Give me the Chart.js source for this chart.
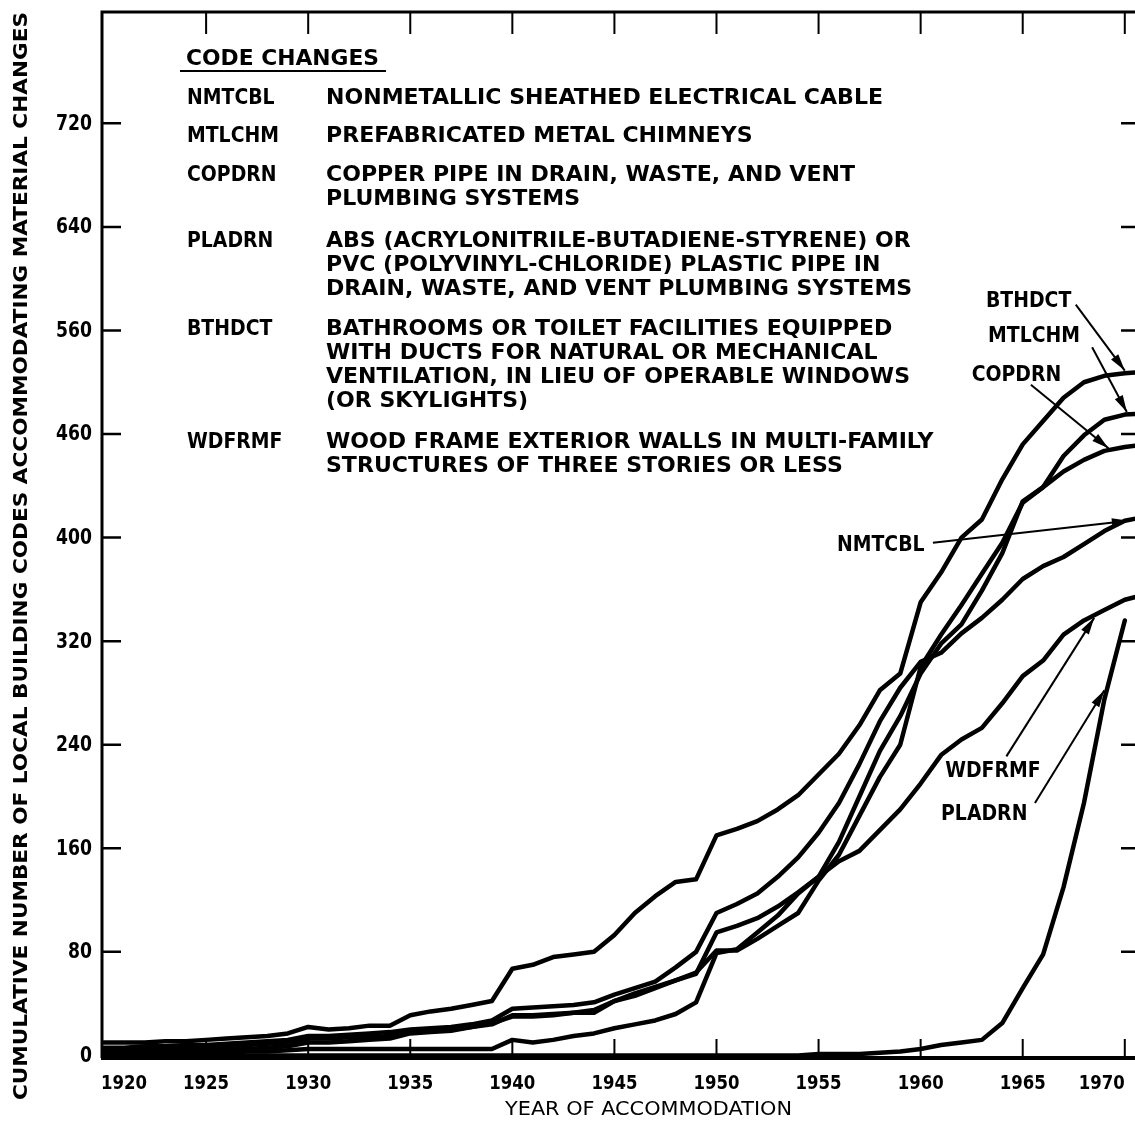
<!DOCTYPE html>
<html>
<head>
<meta charset="utf-8">
<script src="https://cdn.jsdelivr.net/npm/chart.js@4.4.1/dist/chart.umd.min.js"></script>
<style>
  html, body { margin: 0; padding: 0; background: #fff; }
  #wrap { width: 1135px; height: 1126px; }
</style>
</head>
<body>
<div id="wrap"><canvas id="c" width="1135" height="1126"></canvas></div>
<script>
// data: one value per year, 1920..1971
const years = [];
for (let y = 1920; y <= 1971; y++) years.push(y);

const BTHDCT = [10,10,10,11,11,12,13,14,15,17, 22,20,21,23,23, 31,34,36,39,42, 67,70,76,78,80, 93,110,123,134,136, 170,175,181,190,201, 217,233,255,282,295, 350,373,400,414,445, 472,490,508,520,525, 527,528];
const NMTCBL = [6,6,7,7,8,8,9,10,11,12, 15,15,16,17,18, 20,21,22,24,27, 36,37,38,39,41, 47,52,57,68,80, 110,117,125,138,153, 172,195,225,258,284, 304,311,326,338,352, 368,378,385,395,405, 413,416];
const MTLCHM = [5,5,5,6,6,6,7,8,9,10, 13,13,14,14,15, 18,19,20,22,24, 31,31,32,33,33, 42,48,53,58,63, 95,100,106,115,126, 138,165,200,235,262, 295,318,333,359,388, 428,439,463,479,491, 495,496];
const COPDRN = [3,3,3,4,4,4,5,5,6,7, 10,10,11,12,13, 17,18,19,22,25, 30,30,31,33,35, 42,46,52,58,64, 81,81,90,100,110, 135,155,185,215,240, 300,325,348,372,396, 427,439,451,460,467, 470,472];
const WDFRMF = [1,1,1,1,2,2,2,3,3,4, 5,5,5,5,5, 5,5,5,5,5, 12,10,12,15,17, 21,24,27,32,41, 79,82,95,108,125, 138,150,158,174,190, 210,232,244,253,272, 293,305,325,336,344, 352,356];
const PLADRN = [0,0,0,0,0,0,0,0,0,0, 0,0,0,0,0, 0,0,0,0,0, 0,0,0,0,0, 0,0,0,0,0, 0,0,0,0,0, 1,1,1,2,3, 5,8,10,12,25, 52,78,130,195,275, 336,null];

const yTicks = [0, 80, 160, 240, 320, 400, 480, 560, 640, 720];
const yTickLabels = ["0", "80", "160", "240", "320", "400", "460", "560", "640", "720"];
const xTicks = [1920, 1925, 1930, 1935, 1940, 1945, 1950, 1955, 1960, 1965, 1970];

const legendRows = [
  ["NMTCBL", ["NONMETALLIC SHEATHED ELECTRICAL CABLE"]],
  ["MTLCHM", ["PREFABRICATED METAL CHIMNEYS"]],
  ["COPDRN", ["COPPER PIPE IN DRAIN, WASTE, AND VENT", "PLUMBING SYSTEMS"]],
  ["PLADRN", ["ABS (ACRYLONITRILE-BUTADIENE-STYRENE) OR", "PVC (POLYVINYL-CHLORIDE) PLASTIC PIPE IN", "DRAIN, WASTE, AND VENT PLUMBING SYSTEMS"]],
  ["BTHDCT", ["BATHROOMS OR TOILET FACILITIES EQUIPPED", "WITH DUCTS FOR NATURAL OR MECHANICAL", "VENTILATION, IN LIEU OF OPERABLE WINDOWS", "(OR SKYLIGHTS)"]],
  ["WDFRMF", ["WOOD FRAME EXTERIOR WALLS IN MULTI-FAMILY", "STRUCTURES OF THREE STORIES OR LESS"]],
];

// callouts: label position and arrow (year, value)
const callouts = [
  { text: "BTHDCT", at: [1963.2, 582], from: [1967.6, 580], to: [1970.0, 529] },
  { text: "MTLCHM", at: [1963.3, 555], from: [1968.4, 547], to: [1970.1, 497] },
  { text: "COPDRN", at: [1962.5, 525], from: [1965.4, 518], to: [1969.2, 469] },
  { text: "NMTCBL", at: [1955.9, 394], from: [1960.6, 396], to: [1970.2, 413] },
  { text: "WDFRMF", at: [1961.2, 219], from: [1964.2, 231], to: [1968.5, 338] },
  { text: "PLADRN", at: [1961.0, 186], from: [1965.6, 195], to: [1969.0, 282] },
];

const FONT = "'DejaVu Sans', Lato, sans-serif";

function fitText(ctx, text, x, y, w) {
  const m = ctx.measureText(text).width;
  ctx.save();
  ctx.translate(x, y);
  ctx.scale(w / m, 1);
  ctx.fillText(text, 0, 0);
  ctx.restore();
}

function squeezed(ctx, text, x, y, s) {
  ctx.save();
  ctx.translate(x, y);
  ctx.scale(s, 1);
  ctx.fillText(text, 0, 0);
  ctx.restore();
}

function arrow(ctx, x1, y1, x2, y2) {
  ctx.beginPath();
  ctx.moveTo(x1, y1);
  ctx.lineTo(x2, y2);
  ctx.stroke();
  const a = Math.atan2(y2 - y1, x2 - x1);
  const L = 17, W = 4.5;
  ctx.beginPath();
  ctx.moveTo(x2, y2);
  ctx.lineTo(x2 - L * Math.cos(a) + W * Math.sin(a), y2 - L * Math.sin(a) - W * Math.cos(a));
  ctx.lineTo(x2 - L * Math.cos(a) - W * Math.sin(a), y2 - L * Math.sin(a) + W * Math.cos(a));
  ctx.closePath();
  ctx.fill();
}

const decor = {
  id: "decor",
  afterDraw(chart) {
    const ctx = chart.ctx;
    const a = chart.chartArea;
    const xs = chart.scales.x, ys = chart.scales.y;
    ctx.save();
    ctx.fillStyle = "#000";
    ctx.strokeStyle = "#000";

    // frame
    ctx.lineWidth = 3;
    ctx.beginPath();
    ctx.moveTo(a.left, a.bottom);
    ctx.lineTo(a.left, a.top);
    ctx.lineTo(a.right + 5, a.top);
    ctx.stroke();
    ctx.lineWidth = 4;
    ctx.beginPath();
    ctx.moveTo(a.left - 1, a.bottom);
    ctx.lineTo(a.right + 5, a.bottom);
    ctx.stroke();

    // y ticks, inward on both sides
    ctx.lineWidth = 2.5;
    ctx.font = "bold 21px " + FONT;
    ctx.textAlign = "right";
    ctx.textBaseline = "middle";
    const ySq = 36 / ctx.measureText("720").width;
    yTicks.forEach((v, i) => {
      const py = ys.getPixelForValue(v);
      if (v > 0) {
        ctx.beginPath();
        ctx.moveTo(a.left, py); ctx.lineTo(a.left + 19, py);
        ctx.moveTo(a.right, py); ctx.lineTo(a.right - 14, py);
        ctx.stroke();
      }
      squeezed(ctx, yTickLabels[i], 92, py + 1, ySq);
    });

    // x ticks, bottom and top
    ctx.lineWidth = 2;
    ctx.font = "bold 20px " + FONT;
    ctx.textAlign = "center";
    ctx.textBaseline = "alphabetic";
    const xSq = 46 / ctx.measureText("1935").width;
    xTicks.forEach((v, i) => {
      const px = xs.getPixelForValue(v);
      if (i > 0) {
        ctx.beginPath();
        ctx.moveTo(px, a.bottom); ctx.lineTo(px, a.bottom - 19);
        ctx.moveTo(px, a.top); ctx.lineTo(px, a.top + 22);
        ctx.stroke();
      }
      let lx = px;
      if (i === 0) lx = px + 20;
      if (i === xTicks.length - 1) lx = px - 23;
      squeezed(ctx, String(v), lx, 1089, xSq);
    });

    // axis titles
    ctx.textAlign = "left";
    ctx.textBaseline = "middle";
    ctx.font = "20px " + FONT;
    fitText(ctx, "YEAR OF ACCOMMODATION", 505, 1110, 287);
    ctx.font = "bold 20px " + FONT;
    ctx.save();
    ctx.translate(22, 1100);
    ctx.rotate(-Math.PI / 2);
    fitText(ctx, "CUMULATIVE NUMBER OF LOCAL BUILDING CODES ACCOMMODATING MATERIAL CHANGES", 0, 0, 1088);
    ctx.restore();

    // legend block
    ctx.font = "bold 21px " + FONT;
    ctx.textBaseline = "alphabetic";
    const codeScale = 92 / ctx.measureText("MTLCHM").width;
    const descScale = 557 / ctx.measureText("NONMETALLIC SHEATHED ELECTRICAL CABLE").width;
    fitText(ctx, "CODE CHANGES", 186, 65, 193);
    ctx.lineWidth = 2;
    ctx.beginPath();
    ctx.moveTo(180, 71); ctx.lineTo(386, 71);
    ctx.stroke();
    const rowY = [104, 142, 181, 247, 335, 448];
    const lineGap = 24;
    legendRows.forEach((row, r) => {
      const y0 = rowY[r];
      squeezed(ctx, row[0], 187, y0, codeScale);
      row[1].forEach((line, k) => squeezed(ctx, line, 326, y0 + k * lineGap, descScale));
    });

    // callouts
    ctx.lineWidth = 2;
    ctx.textBaseline = "middle";
    callouts.forEach(c => {
      const lx = xs.getPixelForValue(c.at[0]), ly = ys.getPixelForValue(c.at[1]);
      squeezed(ctx, c.text, lx, ly, codeScale);
      arrow(ctx, xs.getPixelForValue(c.from[0]), ys.getPixelForValue(c.from[1]),
                 xs.getPixelForValue(c.to[0]), ys.getPixelForValue(c.to[1]));
    });
    ctx.restore();
  }
};

function series(label, data) {
  return {
    label, data,
    borderColor: "#000", backgroundColor: "#000",
    borderWidth: 4.5, pointRadius: 0, tension: 0,
    borderJoinStyle: "round", borderCapStyle: "round",
  };
}

new Chart(document.getElementById("c").getContext("2d"), {
  type: "line",
  data: {
    labels: years,
    datasets: [
      series("NMTCBL", NMTCBL),
      series("MTLCHM", MTLCHM),
      series("COPDRN", COPDRN),
      series("PLADRN", PLADRN),
      series("BTHDCT", BTHDCT),
      series("WDFRMF", WDFRMF),
    ],
  },
  options: {
    responsive: false,
    animation: false,
    devicePixelRatio: 1,
    layout: { padding: { left: 102, top: 12, right: 0, bottom: 68 } },
    plugins: { legend: { display: false }, tooltip: { enabled: false } },
    scales: {
      x: { type: "linear", min: 1919.9, max: 1970.5, display: false },
      y: { min: -2, max: 806, display: false },
    },
  },
  plugins: [decor],
});
</script>
</body>
</html>
